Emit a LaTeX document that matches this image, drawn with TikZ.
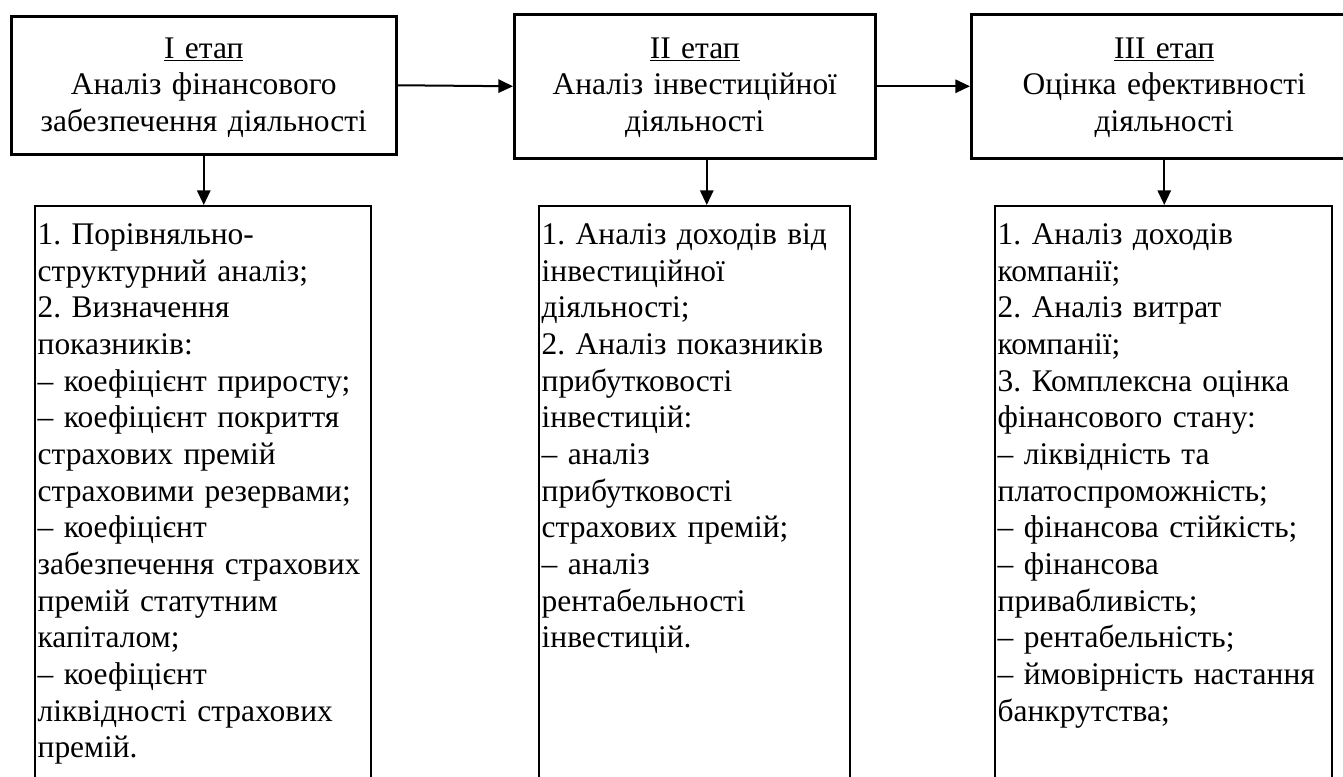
\documentclass[tikz,border=0pt]{standalone}
\usepackage{fontspec}
\setmainfont{Liberation Serif}
\usetikzlibrary{arrows.meta}
\frenchspacing

\begin{document}
\begin{tikzpicture}[x=0.75pt,y=-0.75pt,
    font=\fontsize{23.6}{27.5}\selectfont,
    stage/.style={draw,line width=1.9pt,anchor=north west,align=center,inner xsep=3pt,inner ysep=0pt},
    list/.style={draw,line width=1.5pt,anchor=north west,align=left,inner xsep=2pt,inner ysep=0pt,text height=29pt,text depth=420pt},
    arr/.style={line width=1.5pt,-{Triangle[length=11pt,width=10pt]}}]
    \useasboundingbox (0,0) rectangle (1343,777);
    \clip (0,0) rectangle (1343,777);

    % stages
    \node [stage,text width=282.75pt,text height=31.5pt,text depth=72pt] (top1) at (10,15)
        {\underline{I етап}\\Аналіз фінансового\\забезпечення діяльності};
    \node [stage,text width=264.75pt,text height=33pt,text depth=75pt] (top2) at (513,13)
        {\underline{II етап}\\Аналіз інвестиційної\\діяльності};
    \node [stage,text width=283.5pt,text height=33pt,text depth=75pt] (top3) at (970,13)
        {\underline{III етап}\\Оцінка ефективності\\діяльності};

    % lists
    \node [list,text width=248pt] (low1) at (34,205)
        {1. Порівняльно-\\структурний аналіз;\\2. Визначення\\показників:\\– коефіцієнт приросту;\\– коефіцієнт покриття\\страхових премій\\страховими резервами;\\– коефіцієнт\\забезпечення страхових\\премій статутним\\капіталом;\\– коефіцієнт\\ліквідності страхових\\премій.};
    \node [list,text width=229.25pt] (low2) at (538,205)
        {1. Аналіз доходів від\\інвестиційної\\діяльності;\\2. Аналіз показників\\прибутковості\\інвестицій:\\– аналіз\\прибутковості\\страхових премій;\\– аналіз\\рентабельності\\інвестицій.};
    \node [list,text width=248.75pt] (low3) at (994,205)
        {1. Аналіз доходів\\компанії;\\2. Аналіз витрат\\компанії;\\3. Комплексна оцінка\\фінансового стану:\\– ліквідність та\\платоспроможність;\\– фінансова стійкість;\\– фінансова\\привабливість;\\– рентабельність;\\– ймовірність настання\\банкрутства;};

    \draw [arr] (top1.east) -- (top2.west);
    \draw [arr] (top2.east) -- (top3.west);
    \draw [arr] (top1.south) -- (top1.south |- low1.north);
    \draw [arr] ([xshift=9pt]top2.south) -- ([xshift=9pt]top2.south |- low2.north);
    \draw [arr] (top3.south) -- (top3.south |- low3.north);

\end{tikzpicture}
\end{document}
